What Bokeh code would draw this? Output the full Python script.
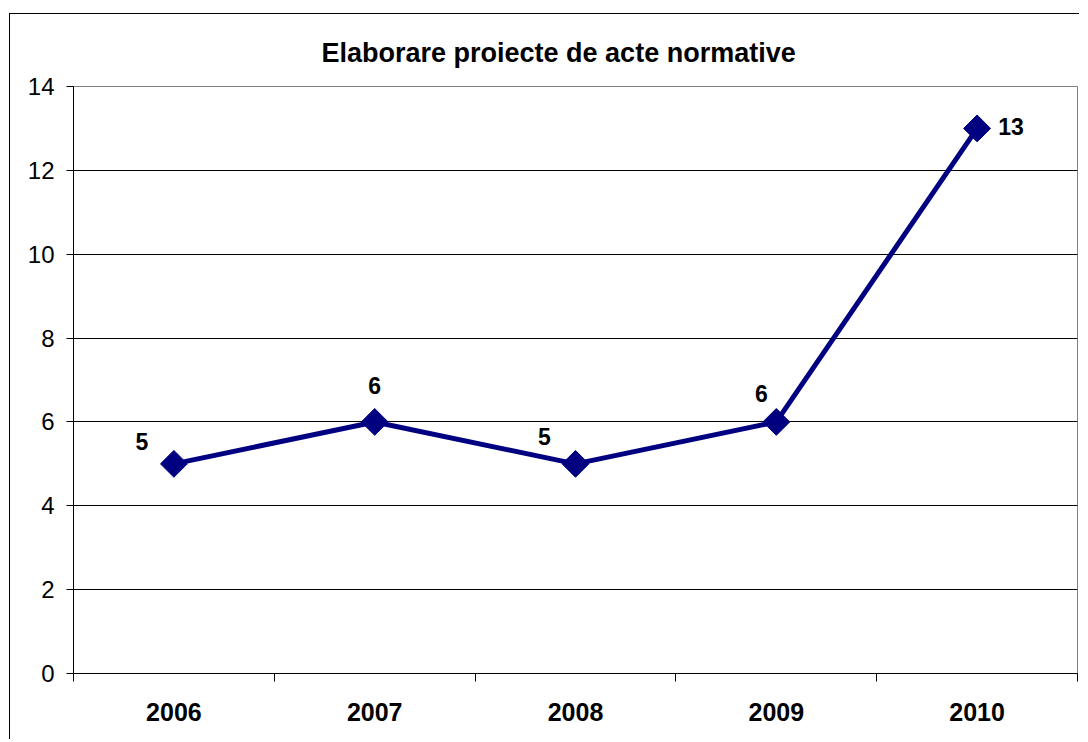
from bokeh.plotting import figure
from bokeh.models import Range1d, FixedTicker, Title, ColumnDataSource
from bokeh.core.properties import value
from bokeh.embed import file_html
from bokeh.resources import INLINE
import math

# ---- data ----
years = [2006, 2007, 2008, 2009, 2010]
counts = [5, 6, 5, 6, 13]
y_ticks = [0, 2, 4, 6, 8, 10, 12, 14]
title_text = "Elaborare proiecte de acte normative"

# label placement (screen px offsets, style only)
label_dx = [-32, 0, -31, -15, 34]
label_dy = [-22, -36, -27, -28, -2]

FONT = "Liberation Sans"
NAVY = "#000080"

p = figure(width=1070, height=726, output_backend="svg", toolbar_location=None,
           x_range=Range1d(years[0] - 0.5, years[-1] + 0.5),
           y_range=Range1d(y_ticks[0], y_ticks[-1]),
           min_border_left=63, min_border_top=72, min_border_right=3, min_border_bottom=67,
           background_fill_color="white", border_fill_color="white")
p.title = None
p.margin = (13, 0, 0, 9)
p.styles = {"border-left": "1px solid black", "border-top": "1px solid black"}

p.outline_line_color = "#808080"
p.outline_line_width = 1

# y axis
p.yaxis.ticker = FixedTicker(ticks=y_ticks)
p.yaxis.axis_line_color = "black"
p.yaxis.major_tick_out = 7
p.yaxis.major_tick_in = 0
p.yaxis.minor_tick_line_color = None
p.yaxis.major_label_text_font = FONT
p.yaxis.major_label_text_font_size = "24px"
p.yaxis.major_label_text_color = "black"
p.yaxis.major_label_standoff = 12

# x axis: labels at years, tick marks at category boundaries
bounds = [y - 0.5 for y in years] + [years[-1] + 0.5]
p.xaxis.ticker = FixedTicker(ticks=years, minor_ticks=bounds)
p.xaxis.axis_line_color = "black"
p.xaxis.major_tick_line_color = None
p.xaxis.major_tick_out = 0
p.xaxis.major_tick_in = 0
p.xaxis.minor_tick_line_color = "black"
p.xaxis.minor_tick_out = 8
p.xaxis.minor_tick_in = 0
p.xaxis.major_label_text_font = FONT
p.xaxis.major_label_text_font_style = "bold"
p.xaxis.major_label_text_font_size = "25px"
p.xaxis.major_label_text_color = "black"
p.xaxis.major_label_standoff = 21

# grid
p.xgrid.grid_line_color = None
p.ygrid.ticker = FixedTicker(ticks=y_ticks[1:-1])
p.ygrid.grid_line_color = "black"
p.ygrid.grid_line_width = 1

# title
t = Title(text=title_text, align="left", offset=248, text_font=FONT,
          text_font_size="27px", text_font_style="bold", text_color="black", standoff=38)
p.add_layout(t, "above")

src = ColumnDataSource(dict(x=years, y=counts, lbl=[str(c) for c in counts],
                            dx=label_dx, dy=label_dy))
p.line("x", "y", source=src, line_color=NAVY, line_width=5)
p.scatter("x", "y", source=src, marker="square", angle=math.pi / 4, size=19,
          fill_color=NAVY, line_color=NAVY)
p.text("x", "y", text="lbl", source=src, x_offset="dx", y_offset="dy",
       text_align="center", text_baseline="middle", text_font=value(FONT),
       text_font_style="bold", text_font_size="23px", text_color="black")

open("out.html", "w").write(file_html(p, INLINE))
